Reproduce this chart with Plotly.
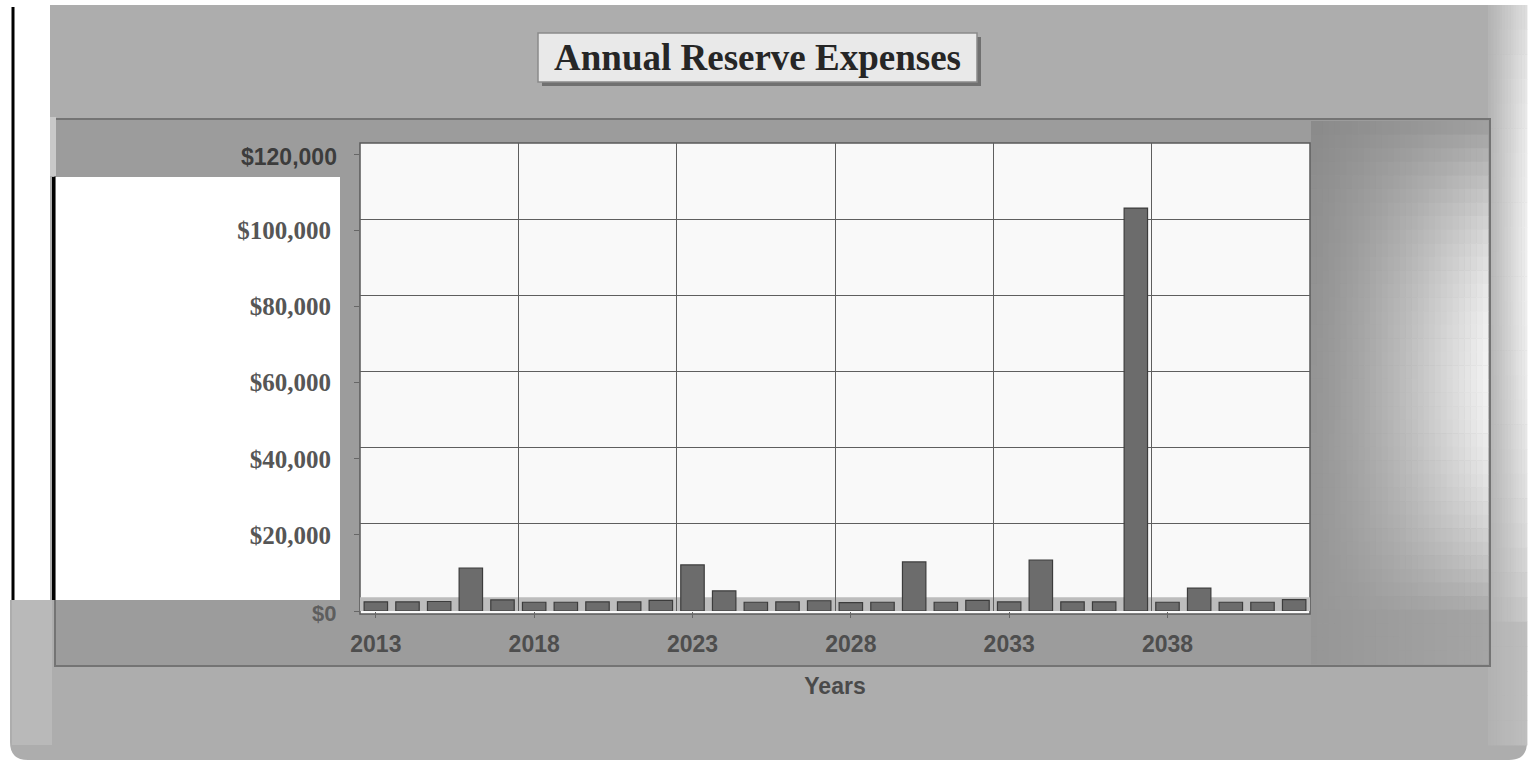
import math
import plotly.graph_objects as go

# Annual reserve expenses by year
years = list(range(2013, 2043))
expenses = [2400, 2400, 2500, 11300, 2900, 2300, 2300, 2400, 2400, 2800,
            12100, 5300, 2300, 2400, 2700, 2200, 2300, 12900, 2300, 2800,
            2400, 13400, 2400, 2400, 105900, 2300, 6000, 2300, 2300, 3000]

y_tickvals = [0, 20000, 40000, 60000, 80000, 100000, 120000]
y_ticktext = ['', '$20,000', '$40,000', '$60,000', '$80,000', '$100,000', '']
x_tickvals = [2013, 2018, 2023, 2028, 2033, 2038]

W, H = 1529, 763
L, R, T, B = 360, 1310, 143, 611  # plot area in page pixels


def px(x):
    return (x - L) / (R - L)


def py(y):
    return (B - y) / (B - T)


def rect(x0, y0, x1, y1, fill, line=None, lw=0):
    return dict(type='rect', xref='paper', yref='paper', layer='below',
                x0=px(x0), x1=px(x1), y0=py(y1), y1=py(y0),
                fillcolor=fill, line=dict(color=line or fill, width=lw))


def hexgrey(v):
    v = max(0, min(255, int(round(v))))
    return '#%02x%02x%02x' % (v, v, v)


shapes = []

# outer rounded panel
x0, y0, x1, y1, r = 10, 5, 1527, 760, 18
path = (f'M {px(x0)},{py(y0)} L {px(x1)},{py(y0)} L {px(x1)},{py(y1 - r)} '
        f'Q {px(x1)},{py(y1)} {px(x1 - r)},{py(y1)} L {px(x0 + r)},{py(y1)} '
        f'Q {px(x0)},{py(y1)} {px(x0)},{py(y1 - r)} Z')
shapes.append(dict(type='path', xref='paper', yref='paper', layer='below', path=path,
                   fillcolor='#adadad', line=dict(width=0)))
# lighter right edge of outer panel
nx, ny = 14, 30
for i in range(nx):
    for j in range(ny):
        xa = 1488 + (1527 - 1488) * i / nx
        xb = 1488 + (1527 - 1488) * (i + 1) / nx
        ya = 5 + (745 - 5) * j / ny
        yb = 5 + (745 - 5) * (j + 1) / ny
        tx = (i + 0.5) / nx
        ty = (j + 0.5) / ny
        v = 178 + 50 * tx * math.sin(math.pi * min(1.0, 0.15 + ty)) ** 0.6 + 12 * tx
        shapes.append(rect(xa, ya, xb + 0.4, yb + 0.4, hexgrey(v)))
# lighter left strip of outer panel
shapes.append(rect(12, 600, 52, 745, '#b9b9b9'))

# inner panel
shapes.append(rect(55, 119, 1490, 666, '#9c9c9c', '#747474', 2))
# soft light toward the right of the inner panel
nx, ny = 30, 40
for i in range(nx):
    for j in range(ny):
        xa = 1311 + (1488 - 1311) * i / nx
        xb = 1311 + (1488 - 1311) * (i + 1) / nx
        ya = 121 + (664 - 121) * j / ny
        yb = 121 + (664 - 121) * (j + 1) / ny
        tx = (i + 0.5) / nx
        ty = (j + 0.5) / ny
        glow = math.sin(math.pi * min(1.0, ty * 1.1)) ** 0.8
        v = 150 - 12 * (1 - ty) ** 3 + 80 * (tx ** 1.4) * glow + 15 * tx
        shapes.append(rect(xa, ya, xb + 0.4, yb + 0.4, hexgrey(v)))

# white cover on the left edge with label patch
shapes.append(rect(0, 0, 50, 600, '#ffffff'))
shapes.append(rect(50, 117, 56, 176, '#c9c9c9'))
shapes.append(rect(56, 177, 340, 600, '#ffffff'))
shapes.append(rect(11.5, 7, 14.5, 600, '#000000'))
shapes.append(rect(52, 177, 55, 600, '#000000'))

# plot area background
shapes.append(rect(L, T, R, B + 3, '#f9f9f9', '#5a5a5a', 1.5))
# floor band behind the bars
shapes.append(dict(type='rect', xref='paper', yref='y', layer='below',
                   x0=0, x1=1, y0=0, y1=3600, fillcolor='#bdbdbd', line=dict(width=0)))

# title box with shadow
shapes.append(rect(542, 37, 981, 86, '#707070'))
shapes.append(rect(538, 33, 977, 82, '#e9e9e9', '#8a8a8a', 1.5))

fig = go.Figure()
fig.add_trace(go.Bar(
    x=years, y=expenses, width=0.74,
    marker=dict(color='#6c6c6c', line=dict(color='#3c3c3c', width=1.2)),
))

annotations = [
    dict(text='Annual Reserve Expenses', xref='paper', yref='paper',
         x=px(757), y=py(58), showarrow=False, xanchor='center', yanchor='middle',
         font=dict(family='Liberation Serif', size=37, color='#262626', weight='bold')),
    dict(text=f'${y_tickvals[0]:,}', xref='paper', yref='y', x=px(338), y=y_tickvals[0],
         showarrow=False, xanchor='right', yanchor='middle', yshift=-2,
         font=dict(family='Liberation Sans', size=22, color='#5e5e5e', weight='bold')),
    dict(text=f'${y_tickvals[-1]:,}', xref='paper', yref='y', x=px(339), y=y_tickvals[-1],
         showarrow=False, xanchor='right', yanchor='middle', yshift=-3,
         font=dict(family='Liberation Sans', size=23, color='#3c3c3c', weight='bold')),
]

fig.update_layout(
    width=W, height=H,
    margin=dict(l=L, r=W - R, t=T, b=H - B, autoexpand=False),
    paper_bgcolor='#ffffff',
    plot_bgcolor='rgba(0,0,0,0)',
    showlegend=False,
    shapes=shapes,
    annotations=annotations,
    xaxis=dict(
        range=[2012.5, 2042.5], tickvals=x_tickvals, showgrid=False, zeroline=False,
        ticks='outside', ticklen=6, tickcolor='#666666', tickwidth=1,
        tickfont=dict(family='Liberation Sans', size=23, color='#4e4e4e', weight='bold'),
        ticklabelstandoff=6,
        showline=False,
        minor=dict(tickvals=[2017.5, 2022.5, 2027.5, 2032.5, 2037.5], showgrid=True,
                   gridcolor='#5e5e5e', gridwidth=1, ticks=''),
        title=dict(text='Years', standoff=22,
                   font=dict(family='Liberation Sans', size=23, color='#4a4a4a', weight='bold')),
    ),
    yaxis=dict(
        range=[0, 123000], tickvals=y_tickvals, ticktext=y_ticktext,
        showgrid=False, zeroline=False,
        ticks='outside', ticklen=5, tickcolor='#666666', tickwidth=1,
        tickfont=dict(family='Liberation Serif', size=25, color='#565656', weight='bold'),
        ticklabelstandoff=18,
        showline=False,
        minor=dict(tickvals=[23000, 43000, 63000, 83000, 103000], showgrid=True,
                   gridcolor='#5e5e5e', gridwidth=1, ticks=''),
    ),
)

fig.write_html('out.html')
